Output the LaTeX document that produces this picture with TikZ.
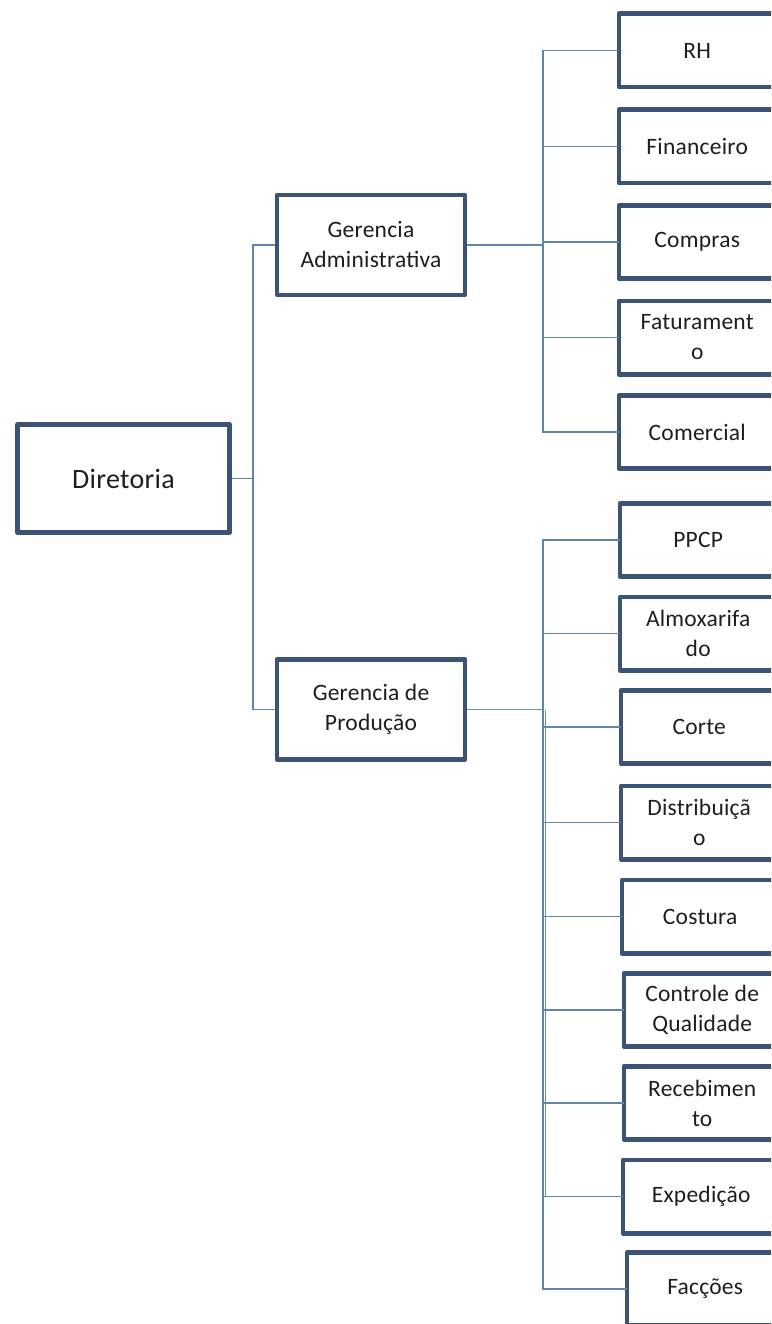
\documentclass[tikz,border=0pt]{standalone}
\usepackage{fontspec}
\setmainfont{Carlito}[LetterSpace=1]
\begin{document}
\definecolor{boxedge}{RGB}{59,84,118}
\definecolor{linkline}{RGB}{96,132,170}
\definecolor{linkblue}{RGB}{104,138,200}
\definecolor{txt}{RGB}{30,30,30}
\begin{tikzpicture}[x=1pt,y=-1pt,
  frame/.style={draw=boxedge,line width=4.6pt,line join=round},
  orgbox/.style={frame,fill=white,rectangle,align=center,text=txt,inner sep=0pt},
  topbox/.style={orgbox,minimum width=212pt,minimum height=108pt,
    font=\fontsize{28}{33}\selectfont},
  midbox/.style={orgbox,minimum width=188pt,minimum height=100pt,
    font=\fontsize{23.5}{30}\selectfont},
  % department label area; its frame runs on past the right edge of the chart
  leafbox/.style={rectangle,align=center,text=txt,inner sep=0pt,anchor=west,
    minimum width=156pt,minimum height=73pt,
    font=\fontsize{23.5}{30}\selectfont},
  link/.style={draw=linkline,line width=1.3pt},
  linkthick/.style={draw=linkblue,line width=1.6pt}]
\useasboundingbox (0,0) rectangle (771,1324);
\clip (0,0) rectangle (771,1324);

% top level and managers
\node[topbox] (dir) at (123.5,478.5) {Diretoria};
\node[midbox] (gadm) at (371,245) {Gerencia\\Administrativa};
\node[midbox] (gprod) at (371,709.5) {Gerencia de\\Produção};

% administrative departments
\node[leafbox] (rh)   at (619,50.5)  {RH};
\node[leafbox] (fin)  at (619,146.5) {Financeiro};
\node[leafbox] (comp) at (619,242)   {Compras};
\node[leafbox] (fat)  at (619,337.5) {Faturament\\o};
\node[leafbox] (com)  at (619,432)   {Comercial};

% production departments
\node[leafbox] (ppcp)  at (620,540)  {PPCP};
\node[leafbox] (almox) at (620,633.5){Almoxarifa\\do};
\node[leafbox] (corte) at (621,727)  {Corte};
\node[leafbox] (dist)  at (621,822.5){Distribuiçã\\o};
\node[leafbox] (cost)  at (622,916.5){Costura};
\node[leafbox] (ctrl)  at (624,1010) {Controle de\\Qualidade};
\node[leafbox] (receb) at (624,1103) {Recebimen\\to};
\node[leafbox] (exped) at (623,1196.5){Expedição};
\node[leafbox] (facc)  at (627,1289) {Facções};

% department frames
\foreach \n in {rh,fin,comp,fat,com,ppcp,almox,corte,dist,cost,ctrl,receb,exped,facc}
  \draw[frame] (\n.south west) rectangle ([xshift=24pt]\n.north east);

% branch points
\coordinate (td) at (253,478.5);
\coordinate (ta) at (543,245);
\coordinate (tp) at (543,709.5);

% connectors from the board to the managers
\draw[link] (dir.east) -- (td);
\draw[link] (td) |- (gadm.west);
\draw[link] (td) |- (gprod.west);

% administrative branch
\draw[link] (gadm.east) -- (ta);
\foreach \n in {rh,fin,comp,fat,com}
  \draw[link] (ta) |- (\n.west);

% production branch
\draw[linkthick] (gprod.east) -- (tp);
\foreach \n in {ppcp,almox,corte,dist,cost,ctrl,receb,exped,facc}
  \draw[link] (tp) |- (\n.west);
\draw[linkthick] ([xshift=2.5pt]tp) -- ([xshift=2.5pt]tp |- exped.west);
\end{tikzpicture}
\end{document}
